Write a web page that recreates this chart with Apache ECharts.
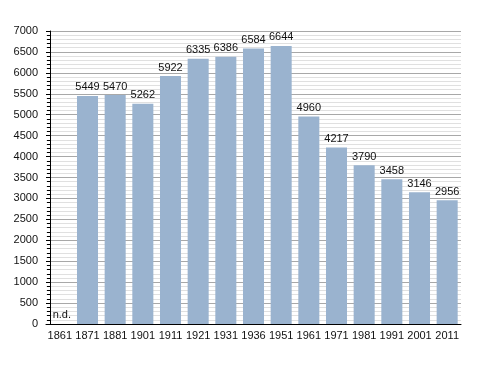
<!DOCTYPE html>
<html><head><meta charset="utf-8">
<script src="https://cdn.jsdelivr.net/npm/echarts@6/dist/echarts.min.js"></script>
<style>html,body{margin:0;padding:0;background:#fff}#c{width:488px;height:373px}</style>
</head><body><div id="c"></div>
<script>
const categories = ['1861','1871','1881','1901','1911','1921','1931','1936','1951','1961','1971','1981','1991','2001','2011'];
const population = [null,5449,5470,5262,5922,6335,6386,6584,6644,4960,4217,3790,3458,3146,2956];
const missingLabel = 'n.d.';

const font = '"Liberation Sans", Arial, sans-serif';
const data = population.map(v => v === null
  ? {value: 0, label: {show: true, formatter: missingLabel, position: 'top', distance: 4, offset: [2, 0]}}
  : v);

const chart = echarts.init(document.getElementById('c'));
chart.setOption({
  animation: false,
  grid: {left: 46, right: 27, top: 31, bottom: 49, containLabel: false},
  xAxis: {
    type: 'category', data: categories,
    axisLine: {lineStyle: {color: '#000', width: 1}},
    axisTick: {show: false},
    axisLabel: {color: '#111', fontSize: 11, fontFamily: font, margin: 6, interval: 0}
  },
  yAxis: {
    type: 'value', min: 0, max: 7000, interval: 500, offset: -4,
    axisLine: {show: true, lineStyle: {color: '#000'}},
    axisTick: {show: true, length: 4, lineStyle: {color: '#000'}},
    minorTick: {show: true, splitNumber: 5, length: 3, lineStyle: {color: '#000'}},
    splitLine: {show: true, lineStyle: {color: '#a8a8a8', width: 1}},
    minorSplitLine: {show: true, lineStyle: {color: '#e0e0e0', width: 1}},
    axisLabel: {color: '#111', fontSize: 11, fontFamily: font, margin: 12, formatter: v => String(v)}
  },
  series: [{
    type: 'bar', data: data,
    barCategoryGap: '24%',
    itemStyle: {color: '#9ab3cf'},
    label: {show: true, position: 'top', distance: 3, color: '#111', fontSize: 11, fontFamily: font}
  }]
});
</script></body></html>
